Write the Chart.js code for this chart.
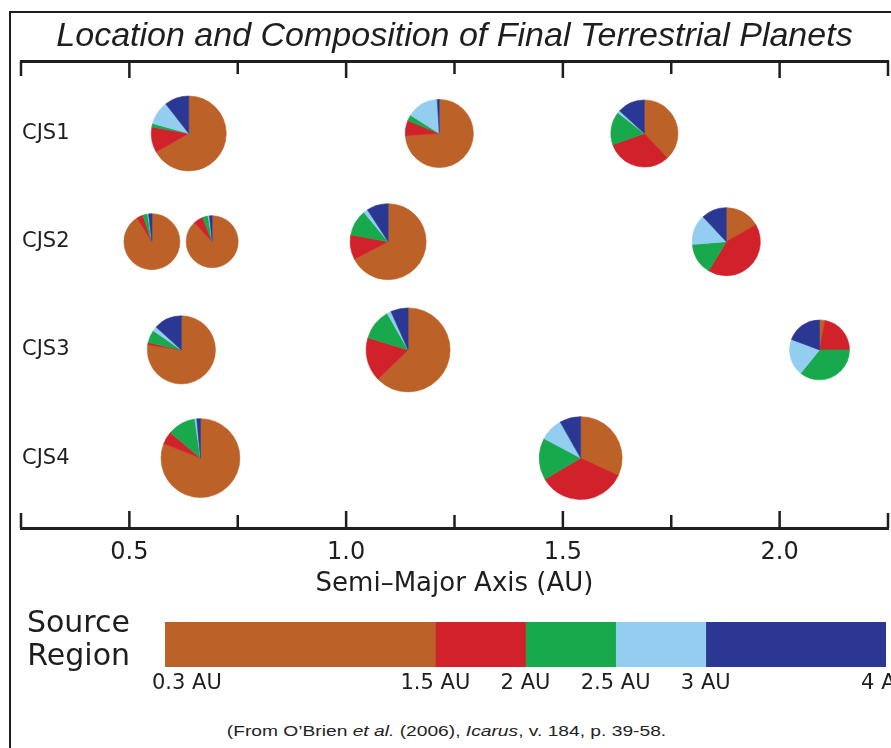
<!DOCTYPE html>
<html>
<head>
<meta charset="utf-8">
<title>Location and Composition of Final Terrestrial Planets</title>
<script src="https://cdn.jsdelivr.net/npm/chart.js@4/dist/chart.umd.min.js"></script>
<style>
  html, body { margin: 0; padding: 0; background: #fff; }
  body { width: 891px; height: 748px; position: relative; overflow: hidden; }
  #frame { position: absolute; left: 9px; top: 11px; width: 900px; height: 760px;
           border-left: 2px solid #1e1e1e; border-top: 2px solid #1e1e1e; }
  #planets { position: absolute; left: 0; top: 0; }
  #source { position: absolute; left: 0; top: 600px; }
  #credit { position: absolute; left: 0; top: 722px; width: 891px; text-align: center;
            font: 15px 'Liberation Sans', Arial, sans-serif; color: #222;
            transform: scaleX(1.28); transform-origin: 442px 0; }
</style>
</head>
<body>
<div id="frame"></div>
<canvas id="planets" width="891" height="610"></canvas>
<canvas id="source" width="891" height="110"></canvas>
<div id="credit">(From O’Brien <i>et al.</i> (2006), <i>Icarus</i>, v. 184, p. 39-58.</div>

<script>
// Simulation runs (rows)
const runs = ['CJS1', 'CJS2', 'CJS3', 'CJS4'];

// Final planets: run index (1-based), semi-major axis (AU), mass (Earth masses)
const planetRun     = [1, 1, 1,   2, 2, 2, 2,   3, 3, 3,   4, 4];
const semiMajorAxis = [0.637, 1.215, 1.688,   0.552, 0.691, 1.097, 1.877,   0.620, 1.143, 2.092,   0.664, 1.541];
const planetMass    = [0.96, 0.72, 0.69,   0.40, 0.32, 1.00, 0.72,   0.72, 1.35, 0.49,   1.12, 1.30];

// Fraction of each planet's mass that came from each source region
const from03to15 = [0.668, 0.740, 0.380,   0.911, 0.880, 0.674, 0.167,   0.774, 0.627, 0.030,   0.810, 0.319];
const from15to2  = [0.110, 0.072, 0.316,   0.036, 0.060, 0.105, 0.420,   0.011, 0.170, 0.220,   0.052, 0.346];
const from2to25  = [0.015, 0.028, 0.160,   0.028, 0.035, 0.111, 0.150,   0.060, 0.120, 0.358,   0.115, 0.163];
const from25to3  = [0.102, 0.150, 0.012,   0.006, 0.008, 0.018, 0.143,   0.022, 0.016, 0.199,   0.008, 0.090];
const from3to4   = [0.105, 0.010, 0.132,   0.019, 0.017, 0.092, 0.120,   0.133, 0.067, 0.193,   0.015, 0.082];

// Source-region key
const sourceEdges = ['0.3 AU', '1.5 AU', '2 AU', '2.5 AU', '3 AU', '4 AU'];
const sourceSpan  = [3, 1, 1, 1, 2];
const sourceColors = ['#bc6229', '#d1212a', '#17a94c', '#93cdef', '#2a3793'];

// Labelled values on the semi-major axis
const axisLabelValues = [0.5, 1.0, 1.5, 2.0];

const sourceShares = [from03to15, from15to2, from2to25, from25to3, from3to4];
const ink = '#1e1e1e';
const labelFont = "'DejaVu Sans', 'Open Sans', sans-serif";

// Pie radius grows with the cube root of planet mass
const radiusFor = m => 38 * Math.cbrt(m);

// Draws each planet as a pie split by source region
const planetPies = {
  id: 'planetPies',
  afterDatasetsDraw(chart) {
    const ctx = chart.ctx;
    const meta = chart.getDatasetMeta(0);
    ctx.save();
    meta.data.forEach((pt, i) => {
      const r = radiusFor(planetMass[i]);
      let a = -Math.PI / 2;
      sourceShares.forEach((share, k) => {
        const f = share[i];
        if (f <= 0) return;
        const b = a + f * 2 * Math.PI;
        ctx.beginPath();
        ctx.moveTo(pt.x, pt.y);
        ctx.arc(pt.x, pt.y, r, a, b);
        ctx.closePath();
        ctx.fillStyle = sourceColors[k];
        ctx.strokeStyle = sourceColors[k];
        ctx.lineWidth = 0.6;
        ctx.fill();
        ctx.stroke();
        a = b;
      });
    });
    ctx.restore();
  }
};

// Tick marks pointing into the plot from the top and bottom axes
const inwardTicks = {
  id: 'inwardTicks',
  afterDraw(chart) {
    const ctx = chart.ctx;
    ctx.save();
    ctx.strokeStyle = ink;
    ctx.lineWidth = 2.5;
    ['x', 'x2'].forEach(id => {
      const s = chart.scales[id];
      const edge = id === 'x' ? s.top : s.bottom;
      const dir = id === 'x' ? -1 : 1;
      s.ticks.forEach((t, i) => {
        const px = s.getPixelForValue(t.value);
        const major = Math.abs(t.value * 2 - Math.round(t.value * 2)) < 1e-6;
        const end = i === 0 || i === s.ticks.length - 1;
        const len = major ? 17 : (end ? 15 : 13);
        ctx.beginPath();
        ctx.moveTo(px, edge);
        ctx.lineTo(px, edge + dir * len);
        ctx.stroke();
      });
    });
    ctx.restore();
  }
};

new Chart(document.getElementById('planets'), {
  type: 'scatter',
  data: {
    datasets: [{
      data: semiMajorAxis.map((a, i) => ({ x: a, y: planetRun[i] })),
      pointRadius: 0,
      pointHoverRadius: 0,
      xAxisID: 'x',
      yAxisID: 'y'
    }]
  },
  options: {
    responsive: false,
    animation: false,
    events: [],
    layout: { padding: { left: 0, right: 3, top: 0, bottom: 0 } },
    plugins: {
      legend: { display: false },
      tooltip: { enabled: false },
      title: {
        display: true,
        fullSize: false,
        text: 'Location and Composition of Final Terrestrial Planets',
        color: ink,
        font: { family: "'Liberation Sans', Arial, sans-serif", style: 'italic', weight: 'normal', size: 34 },
        padding: { top: 16, bottom: 0 }
      }
    },
    scales: {
      x: {
        type: 'linear',
        position: 'bottom',
        min: 0.25,
        max: 2.25,
        grid: { display: false, drawTicks: false },
        border: { display: true, color: ink, width: 3 },
        ticks: {
          stepSize: 0.25,
          autoSkip: false,
          maxRotation: 0,
          padding: 10,
          color: ink,
          font: { family: labelFont, size: 24 },
          callback: v => axisLabelValues.some(a => Math.abs(a - v) < 1e-6) ? v.toFixed(1) : ''
        },
        title: {
          display: true,
          text: 'Semi–Major Axis (AU)',
          color: ink,
          font: { family: labelFont, size: 26 },
          padding: { top: 0, bottom: 10 }
        },
        afterFit(s) { s.height = 610 - 528; s.paddingLeft = 0; s.paddingRight = 0; }
      },
      x2: {
        type: 'linear',
        position: 'top',
        min: 0.25,
        max: 2.25,
        grid: { display: false, drawTicks: false },
        border: { display: true, color: ink, width: 3 },
        ticks: { stepSize: 0.25, autoSkip: false, display: false },
        afterFit(s) { s.height = 4.2; s.paddingLeft = 0; s.paddingRight = 0; }
      },
      y: {
        type: 'linear',
        min: 0.33,
        max: 4.646,
        reverse: true,
        grid: { display: false, drawTicks: false },
        border: { display: false },
        afterBuildTicks(s) { s.ticks = runs.map((_, i) => ({ value: i + 1 })); },
        ticks: {
          mirror: true,
          padding: 1,
          color: ink,
          font: { family: labelFont, size: 21 },
          callback: v => runs[v - 1]
        },
        afterFit(s) { s.width = 21; }
      }
    }
  },
  plugins: [planetPies, inwardTicks]
});

// Boundary labels under the source-region key
const edgeLabels = {
  id: 'edgeLabels',
  afterDraw(chart) {
    const x = chart.scales.x;
    const ctx = chart.ctx;
    const pos = [0];
    sourceSpan.forEach(s => pos.push(pos[pos.length - 1] + s));
    ctx.save();
    ctx.fillStyle = ink;
    ctx.font = "21px " + labelFont;
    ctx.textBaseline = 'middle';
    sourceEdges.forEach((lab, i) => {
      const px = x.getPixelForValue(pos[i]);
      ctx.textAlign = i === 0 ? 'left' : 'center';
      ctx.fillText(lab, i === 0 ? px - 13 : px, chart.chartArea.bottom + 17);
    });
    ctx.restore();
  }
};

new Chart(document.getElementById('source'), {
  type: 'bar',
  data: {
    labels: ['Source Region'],
    datasets: sourceSpan.map((w, k) => ({
      label: sourceEdges[k] + '–' + sourceEdges[k + 1],
      data: [w],
      backgroundColor: sourceColors[k],
      borderWidth: 0,
      categoryPercentage: 1,
      barPercentage: 1
    }))
  },
  options: {
    indexAxis: 'y',
    responsive: false,
    animation: false,
    events: [],
    layout: { padding: { left: 0, right: 5, top: 22, bottom: 43 } },
    plugins: { legend: { display: false }, tooltip: { enabled: false } },
    scales: {
      x: { type: 'linear', min: 0, max: 8, stacked: true, display: false },
      y: {
        type: 'category',
        offset: true,
        stacked: true,
        grid: { display: false, drawTicks: false },
        border: { display: false },
        ticks: {
          padding: 35,
          labelOffset: -4,
          color: ink,
          font: { family: labelFont, size: 30, lineHeight: 1.1 },
          callback: () => ['Source', 'Region']
        },
        afterFit(s) { s.width = 165; s.paddingTop = 0; s.paddingBottom = 0; }
      }
    }
  },
  plugins: [edgeLabels]
});
</script>
</body>
</html>
